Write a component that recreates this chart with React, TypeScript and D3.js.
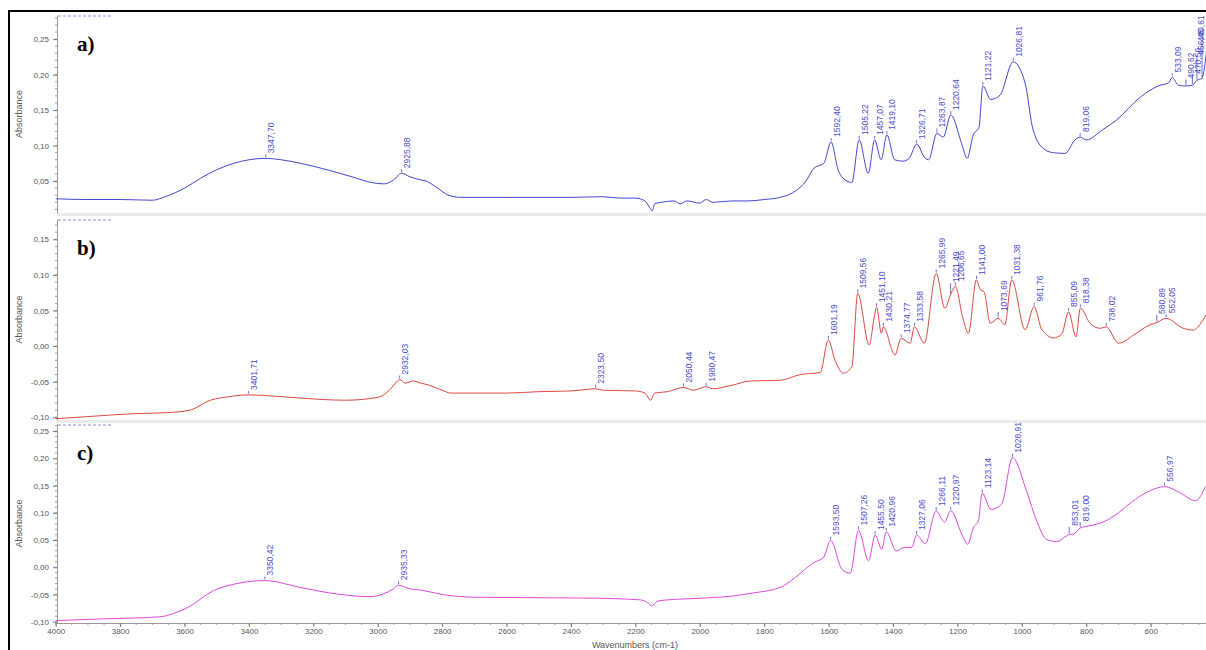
import React, { useEffect, useRef } from 'react'
import * as d3 from 'd3'

// wavenumber ticks for the shared x axis
const xTicks = [4000, 3800, 3600, 3400, 3200, 3000, 2800, 2600, 2400, 2200, 2000, 1800, 1600, 1400, 1200, 1000, 800, 600]

// a) blue spectrum
const aWave = [4000, 3900, 3800, 3700, 3660, 3600, 3550, 3500, 3447, 3400, 3347.7, 3300, 3239, 3150, 3080, 3020, 2980, 2950, 2925.88, 2900, 2870, 2850, 2820, 2780, 2740, 2600, 2400, 2300, 2250, 2200, 2170, 2155, 2148, 2140, 2120, 2080, 2060, 2040, 2000, 1980, 1960, 1900, 1850, 1800, 1750, 1700, 1670, 1646, 1615, 1592.4, 1570, 1559, 1528, 1505.22, 1477, 1457.07, 1437, 1419.1, 1395, 1370, 1350, 1326.71, 1300, 1290, 1263.87, 1244, 1220.64, 1187, 1170, 1151, 1133, 1121.22, 1097, 1068, 1026.81, 990, 965, 928, 902, 866, 835, 819.06, 800, 750, 706, 633, 571, 545, 533.09, 514, 490.62, 470.59, 456.45, 440.61, 425]
const aAbs = [0.025, 0.024, 0.024, 0.023, 0.028, 0.04, 0.054, 0.066, 0.075, 0.08, 0.082, 0.08, 0.075, 0.065, 0.056, 0.048, 0.046, 0.052, 0.061, 0.056, 0.052, 0.05, 0.042, 0.03, 0.027, 0.027, 0.027, 0.028, 0.026, 0.026, 0.022, 0.012, 0.008, 0.018, 0.02, 0.022, 0.018, 0.022, 0.019, 0.024, 0.02, 0.022, 0.022, 0.024, 0.027, 0.037, 0.05, 0.068, 0.075, 0.105, 0.065, 0.056, 0.048, 0.108, 0.061, 0.108, 0.08, 0.115, 0.08, 0.078, 0.082, 0.102, 0.082, 0.08, 0.117, 0.112, 0.143, 0.103, 0.082, 0.115, 0.126, 0.184, 0.165, 0.171, 0.218, 0.188, 0.122, 0.094, 0.09, 0.089, 0.108, 0.112, 0.108, 0.122, 0.136, 0.168, 0.185, 0.188, 0.196, 0.185, 0.184, 0.185, 0.192, 0.195, 0.24]
const aPeaks = [3347.7, 2925.88, 1592.4, 1505.22, 1457.07, 1419.1, 1326.71, 1263.87, 1220.64, 1121.22, 1026.81, 819.06, 533.09, 490.62, 470.59, 456.45, 440.61]
const aTicks = [0.05, 0.1, 0.15, 0.2, 0.25]

// b) red spectrum
const bWave = [4000, 3900, 3760, 3655, 3583, 3550, 3531, 3469, 3401.71, 3300, 3241, 3100, 3000, 2960, 2945, 2932.03, 2915, 2890, 2866, 2840, 2800, 2773, 2700, 2600, 2500, 2400, 2323.5, 2300, 2200, 2170, 2153, 2140, 2100, 2050.44, 2020, 1980.47, 1960, 1900, 1843, 1750, 1688, 1626, 1601.19, 1580, 1554, 1528, 1509.56, 1474, 1459, 1451.1, 1436, 1430.21, 1394, 1374.77, 1347, 1333.58, 1303, 1265.99, 1239, 1221.49, 1206.65, 1184, 1166, 1141, 1130, 1117, 1098, 1073.69, 1053, 1031.38, 990, 961.76, 940, 928, 902, 876, 855.09, 832, 818.38, 788, 757, 738.02, 700, 653, 602, 580.89, 552.05, 499, 468, 440, 428]
const bAbs = [-0.102, -0.099, -0.095, -0.0935, -0.09, -0.083, -0.078, -0.0715, -0.0686, -0.071, -0.073, -0.076, -0.072, -0.06, -0.052, -0.047, -0.052, -0.049, -0.052, -0.055, -0.062, -0.066, -0.066, -0.066, -0.064, -0.063, -0.06, -0.062, -0.063, -0.066, -0.076, -0.066, -0.064, -0.058, -0.062, -0.057, -0.06, -0.055, -0.049, -0.048, -0.04, -0.037, 0.0085, -0.02, -0.038, -0.029, 0.074, 0.0015, 0.039, 0.0545, 0.018, 0.027, -0.0125, 0.011, 0.004, 0.027, 0.004, 0.102, 0.053, 0.072, 0.084, 0.041, 0.018, 0.093, 0.08, 0.076, 0.032, 0.039, 0.03, 0.093, 0.023, 0.0555, 0.025, 0.018, 0.0115, 0.017, 0.048, 0.013, 0.053, 0.032, 0.025, 0.027, 0.004, 0.0155, 0.03, 0.033, 0.039, 0.025, 0.0225, 0.035, 0.044]
const bPeaks = [3401.71, 2932.03, 2323.5, 2050.44, 1980.47, 1601.19, 1509.56, 1451.1, 1430.21, 1374.77, 1333.58, 1265.99, 1221.49, 1206.65, 1141.0, 1073.69, 1031.38, 961.76, 855.09, 818.38, 738.02, 580.89, 552.05]
const bTicks = [-0.1, -0.05, 0, 0.05, 0.1, 0.15]

// c) magenta spectrum
const cWave = [4000, 3862, 3676, 3635, 3593, 3510, 3428, 3350.42, 3241, 3117, 3024, 2983, 2952, 2935.33, 2900, 2866, 2800, 2700, 2500, 2308, 2250, 2184, 2160, 2150, 2130, 2100, 2000, 1900, 1843, 1750, 1703, 1646, 1616, 1593.5, 1559, 1533, 1507.26, 1476, 1455.5, 1435, 1420.96, 1390, 1367, 1341, 1327.06, 1300, 1266.11, 1240, 1220.97, 1186, 1168, 1151, 1135, 1123.14, 1096, 1063, 1028.91, 985, 954, 923, 892, 860, 853.01, 839, 819, 790, 756, 700, 663, 600, 556.97, 507, 461, 430]
const cAbs = [-0.098, -0.095, -0.091, -0.085, -0.075, -0.043, -0.029, -0.0245, -0.037, -0.05, -0.054, -0.049, -0.04, -0.033, -0.04, -0.042, -0.05, -0.055, -0.056, -0.057, -0.058, -0.06, -0.066, -0.071, -0.062, -0.06, -0.057, -0.053, -0.048, -0.037, -0.0185, 0.0087, 0.018, 0.049, -0.0035, -0.011, 0.0675, 0.012, 0.059, 0.033, 0.065, 0.03, 0.036, 0.037, 0.059, 0.043, 0.103, 0.083, 0.104, 0.06, 0.042, 0.072, 0.085, 0.136, 0.106, 0.116, 0.201, 0.139, 0.085, 0.051, 0.047, 0.058, 0.06, 0.061, 0.072, 0.076, 0.081, 0.1, 0.118, 0.141, 0.148, 0.136, 0.122, 0.148]
const cPeaks = [3350.42, 2935.33, 1593.5, 1507.26, 1455.5, 1420.96, 1327.06, 1266.11, 1220.97, 1123.14, 1028.91, 853.01, 819.0, 556.97]
const cTicks = [-0.1, -0.05, 0, 0.05, 0.1, 0.15, 0.2, 0.25]

const panels = [
  { wave: aWave, abs: aAbs, peaks: aPeaks, ticks: aTicks, letter: 'a)', color: '#4444d0', top: 15, bottom: 213, domain: [0.005, 0.284] },
  { wave: bWave, abs: bAbs, peaks: bPeaks, ticks: bTicks, letter: 'b)', color: '#e0473f', top: 219, bottom: 420, domain: [-0.1038, 0.1785] },
  { wave: cWave, abs: cAbs, peaks: cPeaks, ticks: cTicks, letter: 'c)', color: '#df46df', top: 424, bottom: 623, domain: [-0.1024, 0.263] },
]

const locale = d3.formatLocale({ decimal: ',', thousands: '.', grouping: [3], currency: ['', ''], minus: '-' })
const fmt2 = locale.format('.2f')
const font = "'Liberation Sans', Arial, sans-serif"
const labelBlue = '#4b4bd0'

function interp(wave: number[], abs: number[], w: number) {
  for (let k = 0; k < wave.length - 1; k++) {
    if (wave[k] >= w && wave[k + 1] <= w) {
      const t = (wave[k] - w) / (wave[k] - wave[k + 1])
      return abs[k] + t * (abs[k + 1] - abs[k])
    }
  }
  return abs[abs.length - 1]
}

export default function App() {
  const ref = useRef<SVGSVGElement>(null)

  useEffect(() => {
    const svg = d3.select(ref.current)
    svg.selectAll('*').remove()

    const x = d3.scaleLinear().domain([4000, 400]).range([55.7, 1215.1])

    svg.append('rect').attr('width', 1206).attr('height', 650).attr('fill', '#fff')

    panels.forEach((p, i) => {
      const y = d3.scaleLinear().domain(p.domain).range([p.bottom, p.top])
      const g = svg.append('g')

      // grey strip under upper panels
      if (i < 2) {
        g.append('rect').attr('x', 57).attr('y', p.bottom).attr('width', 1150).attr('height', 3).attr('fill', '#ebebeb')
      }
      // faint dashed header at top-left
      g.append('line')
        .attr('x1', 58).attr('x2', 112).attr('y1', p.top + 1).attr('y2', p.top + 1)
        .attr('stroke', '#7070e0').attr('stroke-dasharray', '3,2').attr('stroke-width', 0.8)

      // minor y ticks
      const minor = d3.range(Math.ceil(p.domain[0] * 100), Math.floor(p.domain[1] * 100) + 1).map((v) => v / 100)
      g.selectAll('.minor').data(minor).enter().append('line')
        .attr('x1', 55).attr('x2', 57)
        .attr('y1', (d) => y(d)).attr('y2', (d) => y(d))
        .attr('stroke', '#888').attr('stroke-width', 0.8)

      const yAxis = g.append('g').attr('transform', 'translate(57,0)')
        .call(d3.axisLeft(y).tickValues(p.ticks).tickSize(4).tickSizeOuter(0).tickFormat((d) => fmt2(d as number)))
      yAxis.select('.domain').attr('stroke', '#999')
      yAxis.selectAll('.tick line').attr('stroke', '#777')
      yAxis.selectAll('text').attr('fill', '#555').attr('font-size', 8).attr('font-family', font).attr('dx', -1)

      g.append('text')
        .attr('transform', `translate(22,${(p.top + p.bottom) / 2}) rotate(-90)`)
        .attr('text-anchor', 'middle').attr('font-size', 9).attr('font-family', font).attr('fill', '#555')
        .text('Absorbance')

      // spectrum
      const pts = p.wave.map((w, k) => [w, p.abs[k]] as [number, number])
      const line = d3.line<[number, number]>().x((d) => x(d[0])).y((d) => y(d[1])).curve(d3.curveMonotoneX)
      g.append('path').datum(pts).attr('d', line).attr('fill', 'none').attr('stroke', p.color).attr('stroke-width', 1)

      // peak labels
      p.peaks.forEach((pk) => {
        const px = x(pk)
        const yp = y(interp(p.wave, p.abs, pk))
        let yt = yp
        for (let dx = -1; dx <= 8; dx++) {
          const w = x.invert(px + dx)
          if (w <= 4000 && w >= p.wave[p.wave.length - 1]) yt = Math.min(yt, y(interp(p.wave, p.abs, w)))
        }
        g.append('line').attr('x1', px).attr('x2', px).attr('y1', yp - 1).attr('y2', yt - 4)
          .attr('stroke', labelBlue).attr('stroke-width', 0.8)
        g.append('text')
          .attr('transform', `translate(${Math.min(px + 8.5, 1204)},${yt - 5}) rotate(-90)`)
          .attr('font-size', 8.5).attr('font-family', font).attr('fill', labelBlue)
          .text(fmt2(pk))
      })

      g.append('text').attr('x', 77).attr('y', p.top + 36)
        .attr('font-size', 21).attr('font-weight', 'bold').attr('font-family', "'Liberation Serif', 'Times New Roman', serif")
        .attr('fill', '#000').text(p.letter)

      if (i === 2) {
        const minorX = d3.range(4000, 399, -50)
        g.selectAll('.minorx').data(minorX).enter().append('line')
          .attr('x1', (d) => x(d)).attr('x2', (d) => x(d))
          .attr('y1', p.bottom).attr('y2', p.bottom + 2)
          .attr('stroke', '#888').attr('stroke-width', 0.8)
        const xAxis = g.append('g').attr('transform', `translate(0,${p.bottom})`)
          .call(d3.axisBottom(x).tickValues(xTicks).tickSize(4).tickSizeOuter(0).tickFormat((d) => String(d)))
        xAxis.select('.domain').attr('stroke', '#999')
        xAxis.selectAll('.tick line').attr('stroke', '#777')
        xAxis.selectAll('text').attr('fill', '#555').attr('font-size', 8).attr('font-family', font).attr('dy', '0.55em')
        g.append('text').attr('x', 635).attr('y', 648).attr('text-anchor', 'middle')
          .attr('font-size', 9).attr('font-family', font).attr('fill', '#555').text('Wavenumbers (cm-1)')
      }
    })

    // outer black frame
    svg.append('rect').attr('x', 9).attr('y', 11).attr('width', 1210).attr('height', 660)
      .attr('fill', 'none').attr('stroke', '#000').attr('stroke-width', 2)
  }, [])

  return <svg ref={ref} width={1206} height={650} style={{ position: 'absolute', left: 0, top: 0 }} />
}
